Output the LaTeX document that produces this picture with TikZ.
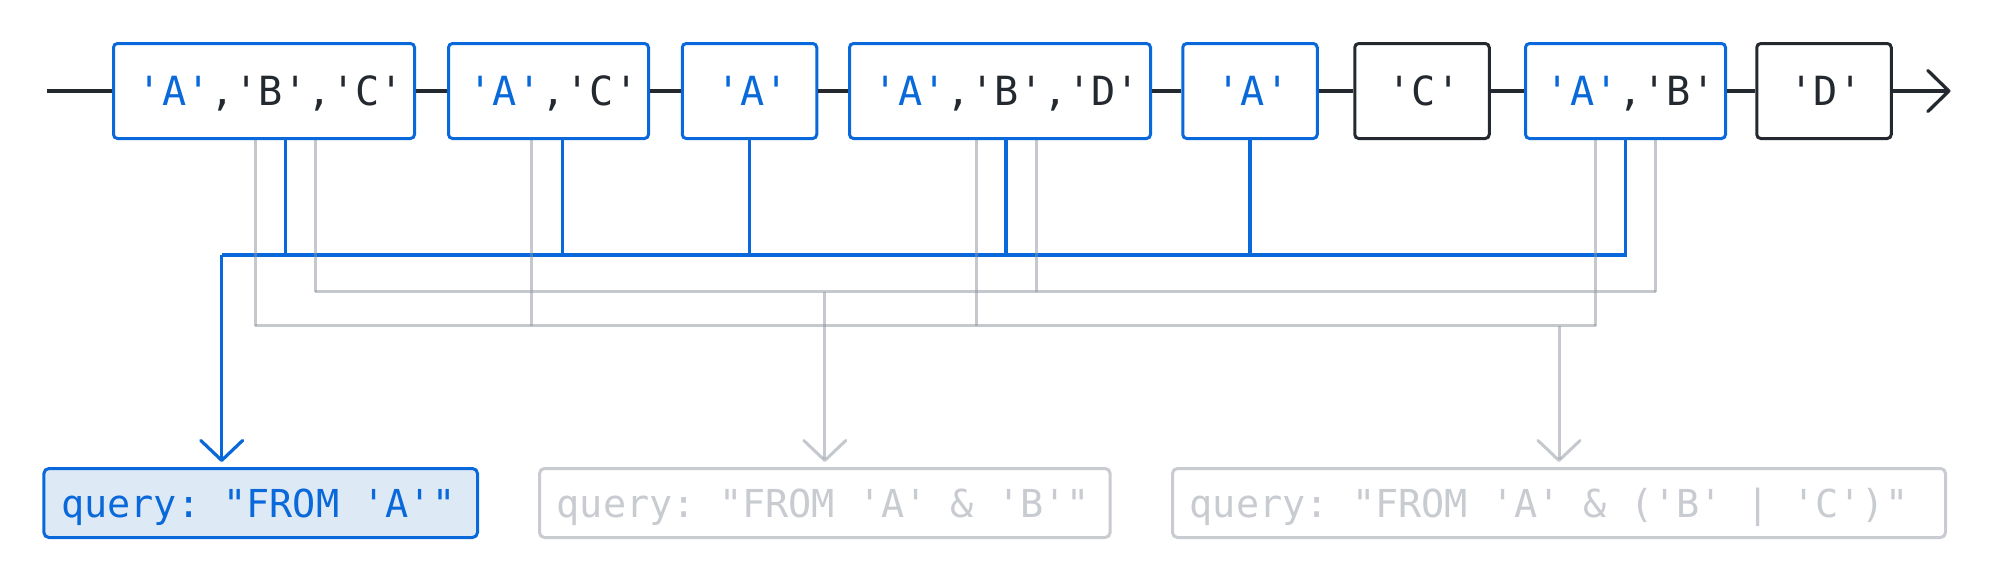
\documentclass[tikz,border=0pt]{standalone}
\usepackage{fontspec}
\newfontfamily\codefont{DejaVu Sans Mono}
\usetikzlibrary{arrows.meta}
\definecolor{cBlue}{HTML}{0969DA}
\definecolor{cDark}{HTML}{24292F}
\definecolor{cGrayL}{HTML}{8C959F}
\definecolor{cGrayT}{HTML}{C8CBD0}
\definecolor{cFill}{HTML}{DEE9F6}
\newcommand\qa{\textcolor{cBlue}{'A'}}
\newcommand\msp{\hspace*{0.6021em}}
\newcommand\lead[1]{\hspace*{#1}}
\tikzset{
  tok/.style={draw=cBlue, fill=white, line width=3pt, rounded corners=4pt,
    minimum height=95pt, inner sep=0pt, text height=29.3pt, text depth=0pt,
    font=\codefont\fontsize{40.2pt}{48pt}\selectfont, text=cDark},
  tokdark/.style={tok, draw=cDark},
  qbox/.style={line width=3pt, rounded corners=5pt, minimum height=69pt,
    inner xsep=17.3pt, inner ysep=0pt, text height=28.1pt, text depth=0pt, align=left,
    font=\codefont\fontsize{38.5pt}{46pt}\selectfont},
  qon/.style={qbox, draw=cBlue, fill=cFill, text=cBlue},
  qoff/.style={qbox, draw=cGrayT, fill=white, text=cGrayT},
  mainline/.style={draw=cDark, line width=3.3pt},
  bl/.style={draw=cBlue, line width=3.2pt},
  gl/.style={draw=cGrayL, draw opacity=0.5, line width=3pt},
  toptip/.style={-{Straight Barb[length=21pt,width=41pt,line cap=round,line join=round]}},
  downtip/.style={-{Straight Barb[length=20pt,width=42pt,line cap=round,line join=round]}}
}
\begin{document}
\begin{tikzpicture}[x=1pt,y=-1pt]
\useasboundingbox (0,0) rectangle (2000,587);
\fill[white] (0,0) rectangle (2000,587);

% top row of token sets
\node[tok, minimum width=301pt] (b1) at (264,91) {\lead{14pt}\qa,'B','C'};
\node[tok, minimum width=200pt] (b2) at (548.5,91) {\lead{10pt}\qa,'C'};
\node[tok, minimum width=134.5pt] (b3) at (749.5,91) {\lead{6pt}\qa};
\node[tok, minimum width=301pt] (b4) at (1000,91) {\lead{14pt}\qa,'B','D'};
\node[tok, minimum width=134.5pt] (b5) at (1250,91) {\lead{6pt}\qa};
\node[tokdark, minimum width=134.5pt] (b6) at (1422,91) {\lead{4pt}'C'};
\node[tok, minimum width=200pt] (b7) at (1625.5,91) {\lead{10pt}\qa,'B'};
\node[tokdark, minimum width=134.5pt] (b8) at (1824,91) {\lead{4pt}'D'};

\coordinate (lstart) at (47,91);
\coordinate (lend) at (1950.5,91);
\draw[mainline] (lstart) -- (b1);
\draw[mainline] (b1) -- (b2);
\draw[mainline] (b2) -- (b3);
\draw[mainline] (b3) -- (b4);
\draw[mainline] (b4) -- (b5);
\draw[mainline] (b5) -- (b6);
\draw[mainline] (b6) -- (b7);
\draw[mainline] (b7) -- (b8);
\draw[mainline, toptip] (b8) -- (lend);

% query boxes
\node[qon, minimum width=433.6pt, text width=399pt] (q1) at (260.7,503)
  {query:\msp"FROM\msp'A'"};
\node[qoff, minimum width=570.6pt, text width=536pt] (q2) at (824.8,503)
  {query:\msp"FROM\msp'A'\msp\&\msp'B'"};
\node[qoff, minimum width=773pt, text width=738.4pt] (q3) at (1559,503)
  {query:\msp"FROM\msp'A'\msp\&\msp('B'\msp|\msp'C')"};

% buses
\coordinate (busA) at (221.7,255);
\coordinate (busAB) at (315,291.7);
\coordinate (busABC) at (255,325.7);

% query A (blue)
\draw[bl] ([xshift=21.7pt]b1.south) -- ([xshift=21.7pt]b1.south |- busA);
\draw[bl] ([xshift=13.8pt]b2.south) -- ([xshift=13.8pt]b2.south |- busA);
\draw[bl] ([xshift=0.3pt]b3.south) -- ([xshift=0.3pt]b3.south |- busA);
\draw[bl] ([xshift=6pt]b4.south) -- ([xshift=6pt]b4.south |- busA);
\draw[bl] (b5.south) -- (b5.south |- busA);
\draw[bl] (b7.south) |- (busA);
\draw[bl, downtip] (busA) -- ([yshift=5pt]q1.north -| busA);

% query A & B (gray)
\draw[gl] ([xshift=51pt]b1.south) -- ([xshift=51pt]b1.south |- busAB);
\draw[gl] ([xshift=36pt]b4.south) -- ([xshift=36pt]b4.south |- busAB);
\draw[gl] ([xshift=30.2pt]b7.south) -- ([xshift=30.2pt]b7.south |- busAB);
\draw[gl] (busAB) -- ([xshift=30.2pt]b7.south |- busAB);
\draw[gl, downtip] (q2.north |- busAB) -- ([yshift=5pt]q2.north);

% query A & (B | C) (gray)
\draw[gl] ([xshift=-9pt]b1.south) -- ([xshift=-9pt]b1.south |- busABC);
\draw[gl] ([xshift=-16.8pt]b2.south) -- ([xshift=-16.8pt]b2.south |- busABC);
\draw[gl] ([xshift=-24pt]b4.south) -- ([xshift=-24pt]b4.south |- busABC);
\draw[gl] ([xshift=-29.8pt]b7.south) -- ([xshift=-29.8pt]b7.south |- busABC);
\draw[gl] (busABC) -- ([xshift=-29.8pt]b7.south |- busABC);
\draw[gl, downtip] (q3.north |- busABC) -- ([yshift=5pt]q3.north);
\end{tikzpicture}
\end{document}
